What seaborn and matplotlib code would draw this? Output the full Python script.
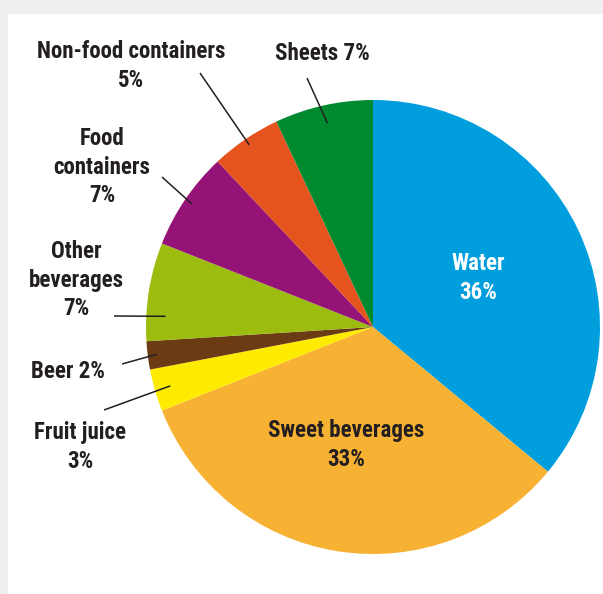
import numpy as np
import matplotlib.pyplot as plt
import seaborn as sns
from matplotlib.patches import Rectangle

# %%
# data
categories = ['Water', 'Sweet beverages', 'Fruit juice', 'Beer', 'Other beverages',
              'Food containers', 'Non-food containers', 'Sheets']
shares = [36, 33, 3, 2, 7, 7, 5, 7]
label_texts = ['Water\n36%', 'Sweet beverages\n33%', 'Fruit juice\n3%', 'Beer 2%',
               'Other\nbeverages\n7%', 'Food\ncontainers\n7%', 'Non-food containers\n5%',
               'Sheets 7%']
colors = ['#009edd', '#f7b234', '#ffeb00', '#6b3b13', '#9cbd10', '#951277', '#e5531f', '#008a30']

# %%
sns.set_theme(style='white')
plt.rcParams['font.family'] = ['Liberation Sans Narrow', 'Roboto Condensed', 'DejaVu Sans']

W, H = 603, 594
fig = plt.figure(figsize=(W / 100, H / 100), dpi=100, facecolor='#efefef')
ax = fig.add_axes([0, 0, 1, 1])
ax.set_facecolor('#efefef')

def py(y):
    # pixel row -> data y
    return H - y

cx, cy, r = 373, py(327), 227
wedges, _ = ax.pie(shares, colors=colors, startangle=90, counterclock=False,
                   center=(cx, cy), radius=r, wedgeprops=dict(linewidth=0))
ax.add_patch(Rectangle((8, 0), W - 8, H - 14, facecolor='white', edgecolor='none', zorder=0))
ax.set_xlim(0, W)
ax.set_ylim(0, H)
ax.set_aspect('equal')
ax.axis('off')

fs = 16.5
# labels inside the big wedges
ax.text(478, py(278), label_texts[0], color='white', fontsize=fs, fontweight='bold',
        ha='center', va='center', linespacing=1.3)
ax.text(346, py(445), label_texts[1], color='#231f20', fontsize=fs, fontweight='bold',
        ha='center', va='center', linespacing=1.3)

# outside labels: text position, line start, wedge fraction, radius fraction
outside = {
    2: ((80, 447), (104, 410), 0.5, 0.93),
    3: ((68, 371), (122, 364), 0.5, 0.96),
    4: ((76, 280), (114, 316), 0.74, 0.915),
    5: ((102, 167), (162, 177), 0.5, 0.965),
    6: ((131, 66), (200, 73), 0.5, 0.97),
    7: ((322, 53), (307, 78), 0.5, 0.92),
}
for i, (tpos, lpos, frac, rf) in outside.items():
    w = wedges[i]
    ang = np.deg2rad(w.theta1 + frac * (w.theta2 - w.theta1))
    x_in = cx + rf * r * np.cos(ang)
    y_in = cy + rf * r * np.sin(ang)
    ax.plot([lpos[0], x_in], [py(lpos[1]), y_in], color='#231f20', lw=1.1,
            solid_capstyle='butt')
    ax.text(tpos[0], py(tpos[1]), label_texts[i], color='#231f20', fontsize=fs,
            fontweight='bold', ha='center', va='center', linespacing=1.3)

fig.savefig('out.png', dpi=100, facecolor=fig.get_facecolor())
